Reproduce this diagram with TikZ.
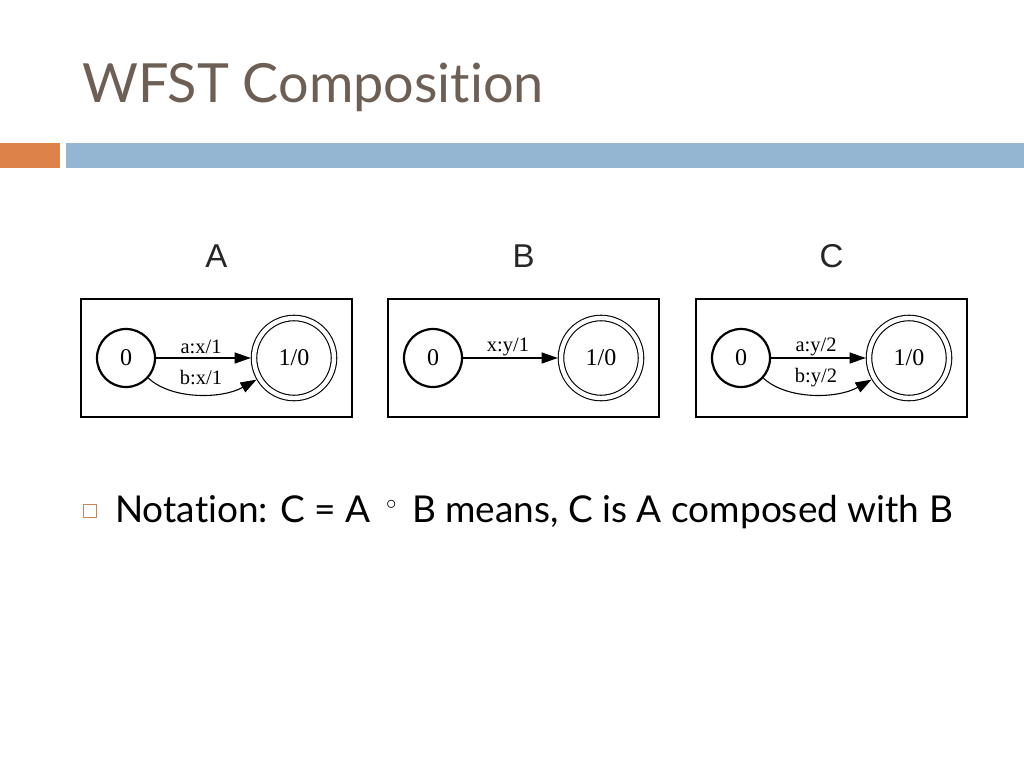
\documentclass[tikz,border=0pt]{standalone}
\usepackage{fontspec}
\setmainfont{Liberation Serif}
\newfontfamily\titlefont[Ligatures=NoCommon]{Lato}
\newfontfamily\labfont{Liberation Sans}
\usetikzlibrary{arrows.meta}
\definecolor{titlecol}{RGB}{110,95,85}
\definecolor{orangebar}{RGB}{221,130,72}
\definecolor{bluebar}{RGB}{148,182,210}
\definecolor{bulletcol}{RGB}{205,130,85}
\tikzset{
  st/.style={circle, draw, line width=2.2pt, minimum size=58pt, inner sep=0pt, font=\fontsize{24}{24}\selectfont},
  fin/.style={circle, draw, double, line width=1.1pt, double distance=4.4pt, minimum size=80pt, inner sep=0pt, outer sep=3.3pt, font=\fontsize{24}{24}\selectfont},
  tr/.style={line width=1.1pt, -{Triangle[length=16pt,width=11pt]}},
  elab/.style={inner sep=0pt, font=\fontsize{20.5}{20.5}\selectfont},
  frame/.style={draw, line width=2pt, minimum width=271pt, minimum height=118pt, inner sep=0pt},
  ttl/.style={font=\labfont\fontsize{33}{33}\selectfont, text=black!85}
}
\begin{document}
\begin{tikzpicture}[x=1pt,y=-1pt]
\fill[white] (0,0) rectangle (1024,768);
\useasboundingbox (0,0) rectangle (1024,768);
% header
\node[anchor=base west, inner sep=0pt, font=\titlefont\fontsize{54}{54}\selectfont, text=titlecol] (title) at (82,102) {WFST Composition};
\fill[orangebar] (0,143) rectangle (60,168);
\fill[bluebar] (66,143) rectangle (1024,168);
% titles
\node[ttl] (ta) at (216.5,256) {A};
\node[ttl] (tb) at (523.5,256) {B};
\node[ttl] (tc) at (831.5,256) {C};
% frames
\node[frame] (fa) at (216.5,358) {};
\node[frame] (fb) at (523.5,358) {};
\node[frame] (fc) at (831.5,358) {};
% A
\node[st] (a0) at (126,358) {0};
\node[fin] (a1) at (294,358) {1/0};
\draw[tr] (a0) -- (a1);
\draw[tr] (a0.-42) .. controls (172,400) and (222,399) .. (a1.-150);
\node[elab] (la) at (201,347) {a:x/1};
\node[elab] (lb) at (201,378) {b:x/1};
% B
\node[st] (b0) at (433,358) {0};
\node[fin] (b1) at (601,358) {1/0};
\draw[tr] (b0) -- (b1);
\node[elab] (lc) at (508,347) {x:y/1};
% C
\node[st] (c0) at (741,358) {0};
\node[fin] (c1) at (909,358) {1/0};
\draw[tr] (c0) -- (c1);
\draw[tr] (c0.-42) .. controls (787,400) and (837,399) .. (c1.-150);
\node[elab] (ld) at (816,347) {a:y/2};
\node[elab] (le) at (816,378) {b:y/2};
% bullet
\node[draw=bulletcol, line width=1.6pt, minimum size=13pt, inner sep=0pt] (bul) at (90,511) {};
\node[anchor=base west, inner sep=0pt, font=\titlefont\fontsize{37}{37}\selectfont] (txt) at (115,522) {Notation: C = A\hspace{6pt} \raisebox{12.5pt}{\fontsize{20}{20}\selectfont$\circ$}\hspace{6pt} B means, C is A composed with B};
\end{tikzpicture}
\end{document}
